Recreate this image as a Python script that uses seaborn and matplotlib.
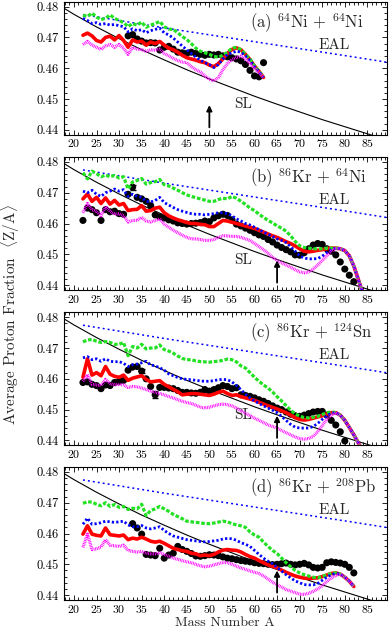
import numpy as np
import pandas as pd
import matplotlib
matplotlib.use("Agg")
import matplotlib.pyplot as plt
import seaborn as sns

# ---------------- data ----------------
# stability line (SL) and evaporation attractor line (EAL)
sl_A = [17, 20, 25, 30, 35, 40, 45, 50, 55, 60, 65, 70, 75, 80, 85, 90]
sl_Z = [0.4802, 0.4775, 0.4734, 0.4696, 0.4660, 0.4627, 0.4595, 0.4565,
        0.4537, 0.4509, 0.4483, 0.4458, 0.4433, 0.4410, 0.4387, 0.4364]
eal_A = [22, 40, 60, 80, 90]
eal_Z = [0.4774, 0.4731, 0.4686, 0.4641, 0.4618]

# (a) 64Ni + 64Ni
A_a = np.arange(22, 63)
green_a = [0.4772, 0.4768, 0.4779, 0.4766, 0.4758, 0.4762, 0.4773, 0.4762, 0.4755, 0.4748,
           0.4735, 0.4745, 0.4740, 0.4750, 0.4733, 0.4740, 0.4745, 0.4752, 0.4735, 0.4727,
           0.4726, 0.4715, 0.4703, 0.4693, 0.4680, 0.4665, 0.4655, 0.4650, 0.4645, 0.4638,
           0.4636, 0.4642, 0.4652, 0.4665, 0.4668, 0.4660, 0.4645, 0.4630, 0.4607, 0.4590,
           0.4570]
red_a = [0.4707, 0.4714, 0.4705, 0.4690, 0.4685, 0.4700, 0.4704, 0.4692, 0.4706, 0.4690,
         0.4668, 0.4692, 0.4685, 0.4688, 0.4675, 0.4685, 0.4680, 0.4687, 0.4675, 0.4665,
         0.4660, 0.4652, 0.4642, 0.4634, 0.4630, 0.4626, 0.4621, 0.4618, 0.4610, 0.4605,
         0.4615, 0.4630, 0.4648, 0.4661, 0.4666, 0.4660, 0.4645, 0.4628, 0.4607, 0.4590,
         0.4570]
blue_a = [0.4762, 0.4755, 0.4745, 0.4748, 0.4742, 0.4745, 0.4740, 0.4742, 0.4738, 0.4735,
          0.4718, 0.4728, 0.4722, 0.4725, 0.4715, 0.4722, 0.4726, 0.4730, 0.4715, 0.4708,
          0.4698, 0.4685, 0.4672, 0.4660, 0.4648, 0.4636, 0.4626, 0.4618, 0.4612, 0.4602,
          0.4612, 0.4630, 0.4645, 0.4650, 0.4655, 0.4652, 0.4640, 0.4625, 0.4605, 0.4588,
          0.4570]
magenta_a = [0.4677, 0.4687, 0.4675, 0.4668, 0.4661, 0.4672, 0.4677, 0.4668, 0.4677, 0.4665,
             0.4645, 0.4668, 0.4662, 0.4660, 0.4655, 0.4660, 0.4658, 0.4662, 0.4648, 0.4640,
             0.4632, 0.4625, 0.4620, 0.4618, 0.4605, 0.4595, 0.4588, 0.4575, 0.4564, 0.4559,
             0.4570, 0.4595, 0.4615, 0.4628, 0.4635, 0.4639, 0.4630, 0.4615, 0.4600, 0.4585,
             0.4570]
expA_a = np.arange(32, 63)
exp_a = [0.4705, 0.4709, 0.4695, 0.4688, 0.4682, 0.4683, 0.4682, 0.4659, 0.4668, 0.4671,
         0.4662, 0.4652, 0.4650, 0.4648, 0.4652, 0.4648, 0.4645, 0.4642, 0.4645, 0.4643,
         0.4645, 0.4640, 0.4637, 0.4634, 0.4630, 0.4624, 0.4612, 0.4593, 0.4575, 0.4572,
         0.4618]

# (b) 86Kr + 64Ni
A_b = np.arange(22, 85)
red_b = [0.4680, 0.4696, 0.4672, 0.4685, 0.4665, 0.4683, 0.4663, 0.4675, 0.4660, 0.4665,
         0.4642, 0.4645, 0.4646, 0.4658, 0.4640, 0.4642, 0.4650, 0.4653, 0.4635, 0.4625,
         0.4618, 0.4612, 0.4608, 0.4603, 0.4600, 0.4600, 0.4597, 0.4596, 0.4590, 0.4590,
         0.4600, 0.4610, 0.4608, 0.4604, 0.4600, 0.4596, 0.4592, 0.4588, 0.4584, 0.4578,
         0.4572, 0.4566, 0.4560, 0.4555, 0.4548, 0.4541, 0.4535, 0.4527, 0.4518, 0.4510,
         0.4508, 0.4510, 0.4513, 0.4515, 0.4518, 0.4520, 0.4520, 0.4518, 0.4512, 0.4495,
         0.4462, 0.4418, 0.4372]
green_b = [0.4765, 0.4745, 0.4770, 0.4762, 0.4752, 0.4757, 0.4752, 0.4756, 0.4748, 0.4752,
           0.4712, 0.4735, 0.4740, 0.4746, 0.4728, 0.4733, 0.4736, 0.4743, 0.4726, 0.4722,
           0.4715, 0.4708, 0.4700, 0.4693, 0.4688, 0.4684, 0.4680, 0.4676, 0.4672, 0.4672,
           0.4678, 0.4682, 0.4680, 0.4688, 0.4682, 0.4672, 0.4662, 0.4650, 0.4642, 0.4630,
           0.4620, 0.4610, 0.4602, 0.4592, 0.4585, 0.4575, 0.4560, 0.4542, 0.4528, 0.4522,
           0.4520, 0.4518, 0.4518, 0.4518, 0.4520, 0.4520, 0.4520, 0.4518, 0.4512, 0.4495,
           0.4462, 0.4418, 0.4372]
blue_b = [0.4705, 0.4700, 0.4708, 0.4695, 0.4688, 0.4700, 0.4705, 0.4712, 0.4705, 0.4710,
          0.4688, 0.4695, 0.4688, 0.4685, 0.4672, 0.4670, 0.4675, 0.4685, 0.4668, 0.4660,
          0.4652, 0.4645, 0.4640, 0.4636, 0.4632, 0.4630, 0.4630, 0.4628, 0.4630, 0.4632,
          0.4635, 0.4635, 0.4632, 0.4625, 0.4615, 0.4608, 0.4600, 0.4595, 0.4588, 0.4580,
          0.4572, 0.4565, 0.4558, 0.4550, 0.4545, 0.4538, 0.4525, 0.4510, 0.4495, 0.4488,
          0.4485, 0.4485, 0.4486, 0.4494, 0.4505, 0.4515, 0.4520, 0.4518, 0.4512, 0.4495,
          0.4462, 0.4418, 0.4372]
magenta_b = [0.4635, 0.4665, 0.4645, 0.4640, 0.4625, 0.4655, 0.4640, 0.4630, 0.4632, 0.4625,
             0.4605, 0.4610, 0.4610, 0.4620, 0.4608, 0.4605, 0.4610, 0.4615, 0.4598, 0.4588,
             0.4578, 0.4570, 0.4562, 0.4555, 0.4550, 0.4550, 0.4548, 0.4545, 0.4545, 0.4548,
             0.4555, 0.4560, 0.4560, 0.4558, 0.4558, 0.4555, 0.4550, 0.4545, 0.4535, 0.4525,
             0.4515, 0.4503, 0.4490, 0.4480, 0.4472, 0.4465, 0.4458, 0.4450, 0.4443, 0.4440,
             0.4442, 0.4452, 0.4465, 0.4480, 0.4495, 0.4510, 0.4518, 0.4518, 0.4512, 0.4495,
             0.4462, 0.4418, 0.4372]
expA_b = np.arange(22, 83)
exp_b = [0.4610, 0.4650, 0.4645, 0.4635, 0.4610, 0.4645, 0.4638, 0.4640, 0.4632, 0.4630,
         0.4695, 0.4718, 0.4685, 0.4680, 0.4672, 0.4658, 0.4628, 0.4622, 0.4618, 0.4612,
         0.4608, 0.4602, 0.4600, 0.4598, 0.4600, 0.4601, 0.4603, 0.4608, 0.4606, 0.4618,
         0.4625, 0.4630, 0.4626, 0.4612, 0.4598, 0.4592, 0.4585, 0.4578, 0.4570, 0.4563,
         0.4558, 0.4548, 0.4540, 0.4530, 0.4522, 0.4515, 0.4508, 0.4498, 0.4497, 0.4505,
         0.4518, 0.4530, 0.4535, 0.4532, 0.4518, 0.4510, 0.4498, 0.4475, 0.4452, 0.4432,
         0.4411]

# (c) 86Kr + 124Sn
A_c = np.arange(22, 85)
green_c = [0.4720, 0.4726, 0.4728, 0.4722, 0.4718, 0.4721, 0.4718, 0.4712, 0.4712, 0.4718,
           0.4675, 0.4705, 0.4700, 0.4712, 0.4697, 0.4700, 0.4700, 0.4710, 0.4695, 0.4690,
           0.4683, 0.4674, 0.4666, 0.4662, 0.4662, 0.4658, 0.4656, 0.4655, 0.4654, 0.4656,
           0.4657, 0.4660, 0.4664, 0.4662, 0.4655, 0.4642, 0.4635, 0.4620, 0.4605, 0.4592,
           0.4580, 0.4570, 0.4557, 0.4542, 0.4528, 0.4513, 0.4498, 0.4486, 0.4479, 0.4474,
           0.4473, 0.4475, 0.4478, 0.4484, 0.4490, 0.4492, 0.4490, 0.4482, 0.4465, 0.4442,
           0.4418, 0.4392, 0.4365]
blue_c = [0.4668, 0.4672, 0.4662, 0.4665, 0.4657, 0.4665, 0.4657, 0.4655, 0.4656, 0.4650,
          0.4640, 0.4646, 0.4648, 0.4652, 0.4657, 0.4645, 0.4642, 0.4636, 0.4628, 0.4616,
          0.4610, 0.4604, 0.4600, 0.4598, 0.4597, 0.4595, 0.4593, 0.4592, 0.4592, 0.4594,
          0.4597, 0.4598, 0.4597, 0.4590, 0.4578, 0.4565, 0.4550, 0.4538, 0.4528, 0.4520,
          0.4512, 0.4505, 0.4498, 0.4490, 0.4478, 0.4465, 0.4452, 0.4443, 0.4440, 0.4440,
          0.4440, 0.4445, 0.4455, 0.4468, 0.4480, 0.4488, 0.4490, 0.4482, 0.4465, 0.4442,
          0.4418, 0.4392, 0.4365]
red_c = [0.4605, 0.4665, 0.4612, 0.4620, 0.4610, 0.4640, 0.4615, 0.4608, 0.4605, 0.4612,
         0.4595, 0.4602, 0.4606, 0.4610, 0.4598, 0.4590, 0.4592, 0.4594, 0.4582, 0.4574,
         0.4566, 0.4558, 0.4548, 0.4550, 0.4552, 0.4552, 0.4550, 0.4548, 0.4546, 0.4550,
         0.4556, 0.4560, 0.4552, 0.4546, 0.4548, 0.4542, 0.4538, 0.4534, 0.4530, 0.4524,
         0.4518, 0.4512, 0.4507, 0.4502, 0.4496, 0.4490, 0.4482, 0.4474, 0.4468, 0.4466,
         0.4468, 0.4472, 0.4476, 0.4480, 0.4486, 0.4490, 0.4490, 0.4482, 0.4465, 0.4442,
         0.4418, 0.4392, 0.4365]
magenta_c = [0.4592, 0.4614, 0.4582, 0.4580, 0.4578, 0.4598, 0.4585, 0.4580, 0.4582, 0.4580,
             0.4572, 0.4575, 0.4574, 0.4570, 0.4565, 0.4560, 0.4556, 0.4552, 0.4548, 0.4542,
             0.4538, 0.4532, 0.4527, 0.4523, 0.4520, 0.4514, 0.4508, 0.4505, 0.4508, 0.4512,
             0.4516, 0.4518, 0.4516, 0.4512, 0.4505, 0.4496, 0.4488, 0.4480, 0.4472, 0.4465,
             0.4458, 0.4450, 0.4445, 0.4440, 0.4432, 0.4425, 0.4418, 0.4411, 0.4406, 0.4404,
             0.4406, 0.4413, 0.4428, 0.4448, 0.4468, 0.4482, 0.4490, 0.4482, 0.4465, 0.4442,
             0.4418, 0.4392, 0.4365]
expA_c = np.arange(22, 81)
exp_c = [0.4588, 0.4590, 0.4582, 0.4578, 0.4568, 0.4580, 0.4578, 0.4588, 0.4592, 0.4595,
         0.4628, 0.4638, 0.4640, 0.4625, 0.4600, 0.4575, 0.4548, 0.4572, 0.4572, 0.4570,
         0.4568, 0.4562, 0.4556, 0.4556, 0.4554, 0.4553, 0.4556, 0.4565, 0.4560, 0.4565,
         0.4571, 0.4578, 0.4575, 0.4568, 0.4571, 0.4548, 0.4546, 0.4543, 0.4538, 0.4532,
         0.4527, 0.4520, 0.4512, 0.4505, 0.4500, 0.4492, 0.4485, 0.4480, 0.4478, 0.4482,
         0.4487, 0.4492, 0.4494, 0.4494, 0.4482, 0.4465, 0.4450, 0.4428, 0.4398]

# (d) 86Kr + 208Pb
A_d = np.arange(22, 83)
green_d = [0.4698, 0.4703, 0.4702, 0.4695, 0.4690, 0.4700, 0.4688, 0.4694, 0.4685, 0.4688,
           0.4678, 0.4682, 0.4680, 0.4695, 0.4658, 0.4675, 0.4680, 0.4688, 0.4680, 0.4672,
           0.4662, 0.4655, 0.4648, 0.4640, 0.4638, 0.4636, 0.4635, 0.4632, 0.4632, 0.4634,
           0.4637, 0.4640, 0.4638, 0.4632, 0.4628, 0.4625, 0.4620, 0.4605, 0.4595, 0.4588,
           0.4572, 0.4558, 0.4545, 0.4535, 0.4520, 0.4505, 0.4492, 0.4480, 0.4472, 0.4466,
           0.4462, 0.4458, 0.4456, 0.4460, 0.4466, 0.4470, 0.4472, 0.4468, 0.4458, 0.4445,
           0.4428]
blue_d = [0.4630, 0.4650, 0.4630, 0.4632, 0.4635, 0.4640, 0.4638, 0.4636, 0.4638, 0.4640,
          0.4628, 0.4622, 0.4622, 0.4626, 0.4618, 0.4615, 0.4618, 0.4622, 0.4610, 0.4600,
          0.4592, 0.4588, 0.4584, 0.4580, 0.4578, 0.4576, 0.4574, 0.4573, 0.4574, 0.4576,
          0.4578, 0.4582, 0.4584, 0.4583, 0.4578, 0.4570, 0.4565, 0.4558, 0.4545, 0.4532,
          0.4520, 0.4510, 0.4502, 0.4490, 0.4478, 0.4466, 0.4456, 0.4446, 0.4440, 0.4434,
          0.4433, 0.4433, 0.4438, 0.4448, 0.4458, 0.4466, 0.4470, 0.4468, 0.4458, 0.4445,
          0.4428]
red_d = [0.4598, 0.4625, 0.4598, 0.4594, 0.4592, 0.4618, 0.4596, 0.4594, 0.4592, 0.4595,
         0.4580, 0.4585, 0.4582, 0.4588, 0.4582, 0.4575, 0.4572, 0.4575, 0.4568, 0.4560,
         0.4552, 0.4548, 0.4544, 0.4542, 0.4536, 0.4534, 0.4528, 0.4530, 0.4528, 0.4532,
         0.4540, 0.4546, 0.4548, 0.4546, 0.4545, 0.4540, 0.4532, 0.4525, 0.4520, 0.4512,
         0.4505, 0.4498, 0.4493, 0.4488, 0.4481, 0.4474, 0.4468, 0.4462, 0.4458, 0.4455,
         0.4454, 0.4455, 0.4456, 0.4460, 0.4465, 0.4470, 0.4472, 0.4468, 0.4458, 0.4445,
         0.4428]
magenta_d = [0.4555, 0.4598, 0.4548, 0.4550, 0.4556, 0.4580, 0.4562, 0.4560, 0.4558, 0.4562,
             0.4545, 0.4542, 0.4540, 0.4542, 0.4536, 0.4534, 0.4534, 0.4538, 0.4532, 0.4526,
             0.4520, 0.4516, 0.4512, 0.4508, 0.4505, 0.4500, 0.4495, 0.4492, 0.4494, 0.4498,
             0.4502, 0.4506, 0.4505, 0.4500, 0.4494, 0.4488, 0.4484, 0.4478, 0.4474, 0.4470,
             0.4462, 0.4452, 0.4442, 0.4434, 0.4426, 0.4418, 0.4413, 0.4408, 0.4403, 0.4402,
             0.4406, 0.4412, 0.4420, 0.4430, 0.4444, 0.4455, 0.4464, 0.4468, 0.4458, 0.4445,
             0.4428]
expA_d = np.arange(33, 83)
exp_d = [0.4632, 0.4618, 0.4598, 0.4532, 0.4530, 0.4528, 0.4552, 0.4520, 0.4530, 0.4536,
         0.4558, 0.4548, 0.4542, 0.4535, 0.4527, 0.4526, 0.4528, 0.4531, 0.4530, 0.4528,
         0.4524, 0.4520, 0.4518, 0.4515, 0.4512, 0.4510, 0.4508, 0.4505, 0.4503, 0.4502,
         0.4500, 0.4499, 0.4500, 0.4502, 0.4504, 0.4500, 0.4498, 0.4500, 0.4503, 0.4498,
         0.4490, 0.4488, 0.4490, 0.4505, 0.4508, 0.4506, 0.4504, 0.4500, 0.4490, 0.4472]

# a few visible error bars on the data
errA = {"b": [33], "c": [35, 38], "d": []}
errV = {"b": [0.0008], "c": [0.0006, 0.0011], "d": []}

titles = [r"(a) $^{64}$Ni + $^{64}$Ni", r"(b) $^{86}$Kr + $^{64}$Ni",
          r"(c) $^{86}$Kr + $^{124}$Sn", r"(d) $^{86}$Kr + $^{208}$Pb"]
arrow_A = [50, 65, 65, 65]
show_sl = [True, True, True, False]

# ---------------- style ----------------
sns.set_theme(style="ticks")
plt.rcParams["font.family"] = ["cmr10", "DejaVu Serif"]
plt.rcParams["mathtext.fontset"] = "cm"
plt.rcParams["axes.formatter.use_mathtext"] = True
plt.rcParams["lines.scale_dashes"] = False
plt.rcParams["axes.unicode_minus"] = False

GREEN = "#22e022"
BLUE = "#0000ff"
RED = "#ff0000"
MAGENTA = "#ff00ff"

fig = plt.figure(figsize=(3.9, 6.3), dpi=100)
W, H = 390.0, 630.0
left = 64 / W
width = 323 / W
PH = 133.0
height = PH / H
tops = [1.7, 157.0, 312.3, 467.0]

sets = [
    (A_a, green_a, blue_a, red_a, magenta_a, expA_a, exp_a, "a"),
    (A_b, green_b, blue_b, red_b, magenta_b, expA_b, exp_b, "b"),
    (A_c, green_c, blue_c, red_c, magenta_c, expA_c, exp_c, "c"),
    (A_d, green_d, blue_d, red_d, magenta_d, expA_d, exp_d, "d"),
]

for i, (A, g, b, r, m, eA, eZ, key) in enumerate(sets):
    ax = fig.add_axes([left, 1 - (tops[i] + PH) / H, width, height])
    sns.lineplot(x=sl_A, y=sl_Z, color="black", lw=0.8, ax=ax, estimator=None)
    sns.lineplot(x=eal_A, y=eal_Z, color=BLUE, lw=1.1, linestyle=(0, (1.4, 2.2)),
                 ax=ax, estimator=None)
    sns.scatterplot(x=eA, y=eZ, color="black", s=26, edgecolor="none", ax=ax, zorder=3)
    if key in errA and errA[key]:
        idx = [list(eA).index(a) for a in errA[key]]
        ax.errorbar([eA[k] for k in idx], [eZ[k] for k in idx], yerr=errV[key],
                    fmt="none", ecolor="black", elinewidth=0.8, capsize=2, zorder=3)
    sns.lineplot(x=A, y=r, color=RED, lw=2.6, ax=ax, estimator=None, zorder=4)
    sns.lineplot(x=A, y=g, color=GREEN, lw=2.3, linestyle=(0, (2.6, 1.3)), ax=ax,
                 estimator=None, zorder=5)
    sns.lineplot(x=A, y=b, color=BLUE, lw=2.0, linestyle=(0, (1.6, 1.6)), ax=ax,
                 estimator=None, zorder=6)
    sns.lineplot(x=A, y=m, color=MAGENTA, lw=2.3, linestyle=(0, (0.6, 0.6)), ax=ax,
                 estimator=None, zorder=7)

    ax.annotate("", xy=(arrow_A[i], 0.4480), xytext=(arrow_A[i], 0.4408),
                arrowprops=dict(arrowstyle="-|>", color="black", lw=1.3,
                                mutation_scale=8, shrinkA=0, shrinkB=0), zorder=8)

    ax.set_xlim(17.8, 89.35)
    ax.set_ylim(0.4384, 0.4816)
    ax.set_xticks([20, 25, 30, 35, 40, 45, 50, 55, 60, 65, 70, 75, 80, 85])
    ax.set_xticks(np.arange(18, 90), minor=True)
    ax.set_yticks([0.44, 0.45, 0.46, 0.47, 0.48])
    ax.set_yticks(np.arange(0.440, 0.4817, 0.002), minor=True)
    ax.set_yticklabels(["0.44", "0.45", "0.46", "0.47", "0.48"])
    ax.tick_params(which="both", direction="in", top=True, right=True,
                   colors="black", width=0.6)
    ax.tick_params(which="major", length=3.8)
    ax.tick_params(which="minor", length=2.0)
    ax.tick_params(axis="y", pad=4, labelsize=9)
    ax.tick_params(axis="x", pad=2.0, labelsize=8.5)
    for s in ax.spines.values():
        s.set_color("black")
        s.set_linewidth(0.8)
    ax.set_xlabel("")
    ax.set_ylabel("")

    ax.text(58.9, 0.4731, titles[i], fontsize=12, ha="left", va="baseline", zorder=9)
    ax.text(74.3, 0.4663, "EAL", fontsize=11, ha="left", va="baseline")
    if show_sl[i]:
        ax.text(55.4, 0.4470, "SL", fontsize=11, ha="left", va="baseline")

fig.text(225 / W, 1.5 / H, "Mass Number A", fontsize=10, ha="center", va="bottom")
fig.text(10 / W, 1 - 315 / H, r"Average Proton Fraction  $\langle \mathrm{Z/A} \rangle$",
         fontsize=11, ha="center", va="center", rotation=90)

fig.savefig("out.png", dpi=100)
